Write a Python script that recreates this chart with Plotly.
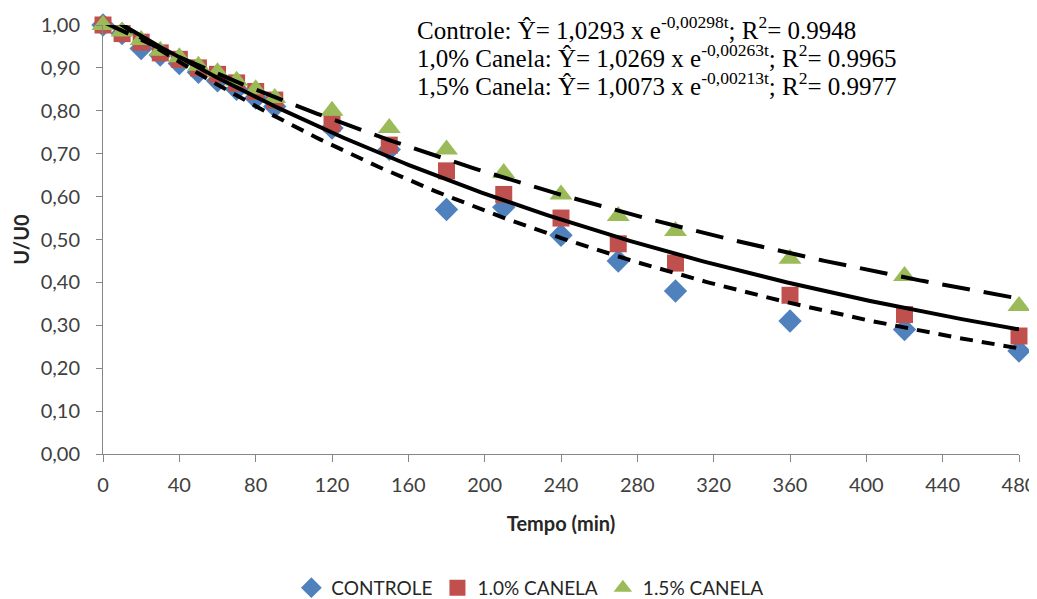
import numpy as np
import plotly.graph_objects as go

tempo = [0, 10, 20, 30, 40, 50, 60, 70, 80, 90, 120, 150, 180, 210, 240, 270, 300, 360, 420, 480]
controle = [1.00, 0.98, 0.945, 0.93, 0.91, 0.89, 0.87, 0.85, 0.83, 0.81, 0.76, 0.71, 0.57, 0.575, 0.51, 0.45, 0.38, 0.31, 0.29, 0.24]
canela_10 = [1.00, 0.98, 0.96, 0.935, 0.92, 0.90, 0.885, 0.865, 0.845, 0.825, 0.77, 0.72, 0.66, 0.605, 0.55, 0.49, 0.445, 0.37, 0.325, 0.275]
canela_15 = [1.00, 0.985, 0.965, 0.94, 0.925, 0.905, 0.89, 0.87, 0.85, 0.83, 0.80, 0.76, 0.71, 0.655, 0.605, 0.555, 0.52, 0.455, 0.415, 0.345]

series_names = ["CONTROLE", "1.0% CANELA", "1.5% CANELA"]
# trendline coefficients shown on the chart: Y = a * exp(b t)
fit_a = [1.0293, 1.0269, 1.0073]
fit_b = [-0.00298, -0.00263, -0.00213]
equations = [
    "Controle: Ŷ= 1,0293 x e<sup>-0,00298t</sup>; R<sup>2</sup>= 0.9948",
    "1,0% Canela: Ŷ= 1,0269 x e<sup>-0,00263t</sup>; R<sup>2</sup>= 0.9965",
    "1,5% Canela: Ŷ= 1,0073 x e<sup>-0,00213t</sup>; R<sup>2</sup>= 0.9977",
]

colors = ["#4F81BD", "#C0504D", "#9BBB59"]
symbols = ["diamond", "square", "triangle-up"]
sizes = [18, 17, 20]
dashes = ["13px,9px", "solid", "28px,14px"]

fig = go.Figure()
for name, vals, c, s, sz in zip(series_names, [controle, canela_10, canela_15], colors, symbols, sizes):
    fig.add_trace(go.Scatter(x=tempo, y=vals, mode="markers", name=name,
                             marker=dict(color=c, symbol=s, size=sz, line=dict(width=0)),
                             cliponaxis=False))

t_line = np.linspace(0, 480, 241)
for a, b, d in zip(fit_a, fit_b, dashes):
    fig.add_trace(go.Scatter(x=t_line, y=a * np.exp(b * t_line), mode="lines",
                             line=dict(color="black", width=4, dash=d),
                             showlegend=False, hoverinfo="skip"))

for i, txt in enumerate(equations):
    fig.add_annotation(text=txt, xref="paper", yref="paper", x=0.341,
                       y=1 - (3 + 28 * i) / 429,
                       xanchor="left", yanchor="middle", showarrow=False, align="left",
                       font=dict(family="Liberation Serif", size=25, color="black"))

tick_font = dict(family="Lato", size=20, color="#404040")
title_font = dict(family="Lato", size=20, color="#262626")
fig.update_layout(
    width=1037, height=599,
    margin=dict(l=95, r=26, t=17, b=153, autoexpand=False),
    plot_bgcolor="white", paper_bgcolor="white",
    separators=",.",
    font=dict(family="Lato", color="#262626"),
    xaxis=dict(range=[0, 480], tickmode="linear", tick0=0, dtick=40, automargin=False,
               showgrid=False, zeroline=False, showline=True, linecolor="#868686", linewidth=1,
               ticks="outside", ticklen=7, tickcolor="#868686", tickfont=tick_font,
               ticklabelstandoff=6,
               title=dict(text="<b>Tempo (min)</b>", font=title_font, standoff=21)),
    yaxis=dict(range=[0, 1.0], tickmode="linear", tick0=0, dtick=0.1, tickformat=".2f",
               automargin=False,
               showgrid=False, zeroline=False, showline=True, linecolor="#868686", linewidth=1,
               ticks="outside", ticklen=6, tickcolor="#868686", tickfont=tick_font,
               ticklabelstandoff=12,
               title=dict(text="<b>U/U0</b>", font=title_font, standoff=5)),
    legend=dict(orientation="h", x=0.466, xanchor="center", yref="container", y=0.032, yanchor="middle",
                font=dict(family="Lato", size=19, color="#262626"), itemwidth=30, tracegroupgap=0),
    showlegend=True,
)

fig.write_html("out.html")
